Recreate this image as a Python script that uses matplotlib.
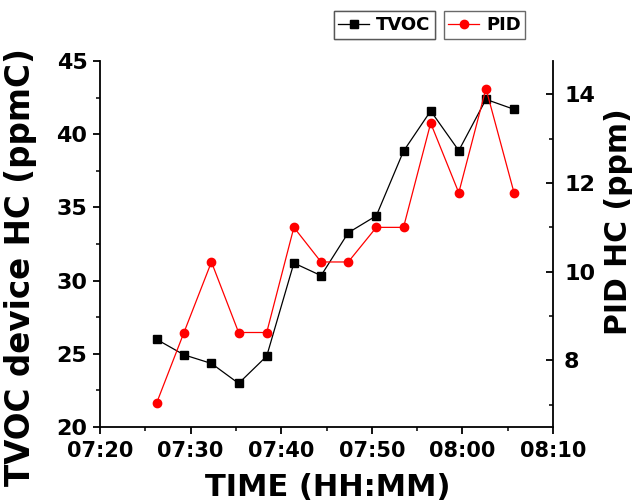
import numpy as np
import pandas as pd
import matplotlib
matplotlib.use("Agg")
import matplotlib.pyplot as plt
import matplotlib.dates as mdates
from matplotlib.ticker import MultipleLocator

# sample times
times = ["07:26:16", "07:29:16", "07:32:18", "07:35:18", "07:38:24", "07:41:24", "07:44:24",
         "07:47:24", "07:50:30", "07:53:30", "07:56:30", "07:59:36", "08:02:36", "08:05:42"]
tvoc = [25.98, 24.93, 24.34, 22.98, 24.84, 31.2, 30.34, 33.27, 34.43, 38.84, 41.59, 38.88, 42.38, 41.7]
pid = [7.05, 8.63, 10.22, 8.63, 8.63, 11.0, 10.22, 10.22, 11.0, 11.0, 13.35, 11.78, 14.13, 11.78]

t = pd.to_datetime(["2020-01-01 " + s for s in times])

plt.rcParams['font.family'] = ['DejaVu Sans']
plt.rcParams['font.weight'] = 'bold'

fig = plt.figure(figsize=(6.34, 5.03), dpi=100)
ax = fig.add_axes([100/634, 1-427/503, 453/634, 366/503])
ax2 = ax.twinx()

l1, = ax.plot(t, tvoc, color='black', lw=0.9, marker='s', ms=5.8, label='TVOC')
l2, = ax2.plot(t, pid, color='red', lw=0.9, marker='o', ms=6, label='PID')

ax.set_xlim(pd.Timestamp("2020-01-01 07:20"), pd.Timestamp("2020-01-01 08:10"))
ax.xaxis.set_major_locator(mdates.MinuteLocator(byminute=range(0, 60, 10)))
ax.xaxis.set_minor_locator(mdates.MinuteLocator(byminute=range(5, 60, 10)))
ax.xaxis.set_major_formatter(mdates.DateFormatter("%H:%M"))

ax.set_ylim(20, 45)
ax.yaxis.set_major_locator(MultipleLocator(5))
ax.yaxis.set_minor_locator(MultipleLocator(2.5))
ax2.set_ylim(6.5, 14.75)
ax2.yaxis.set_major_locator(MultipleLocator(2))
ax2.yaxis.set_minor_locator(MultipleLocator(1))

for a in (ax, ax2):
    a.spines['top'].set_visible(False)
    for s in a.spines.values():
        s.set_linewidth(1.3)
ax.spines['right'].set_visible(False)
ax2.spines['left'].set_visible(False)
ax2.spines['bottom'].set_visible(False)

ax.tick_params(axis='both', which='major', direction='out', length=5, width=1.3)
ax.tick_params(axis='both', which='minor', direction='out', length=3, width=1.1)
ax.tick_params(axis='y', labelsize=16, pad=4)
ax.tick_params(axis='x', labelsize=15, pad=5)
ax2.tick_params(axis='y', which='major', direction='in', length=5, width=1.3, labelsize=16, pad=8)
ax2.tick_params(axis='y', which='minor', direction='in', length=3, width=1.1)

ax.set_xlabel("TIME (HH:MM)", fontsize=22, fontweight='bold')
ax.xaxis.set_label_coords(0.503, -0.125)
ax.set_ylabel("TVOC device HC (ppmC)", fontsize=23.5, fontweight='bold')
ax.yaxis.set_label_coords(-0.14, 0.437)
ax2.set_ylabel("PID HC (ppm)", fontsize=21.5, fontweight='bold')
ax2.yaxis.set_label_coords(1.113, 0.56)

leg1 = fig.legend(handles=[l1], loc='center', bbox_to_anchor=(384.5/634, 1-25/503),
                  prop={'size': 13, 'weight': 'bold'}, fancybox=False, edgecolor='#444444',
                  handlelength=1.7, handletextpad=0.4, borderpad=0.25, borderaxespad=0)
leg2 = fig.legend(handles=[l2], loc='center', bbox_to_anchor=(484.5/634, 1-25/503),
                  prop={'size': 13, 'weight': 'bold'}, fancybox=False, edgecolor='#444444',
                  handlelength=1.7, handletextpad=0.4, borderpad=0.25, borderaxespad=0)
fig.add_artist(leg1)
for lg in (leg1, leg2):
    lg.get_frame().set_linewidth(1.0)

fig.savefig("out.png", dpi=100)
